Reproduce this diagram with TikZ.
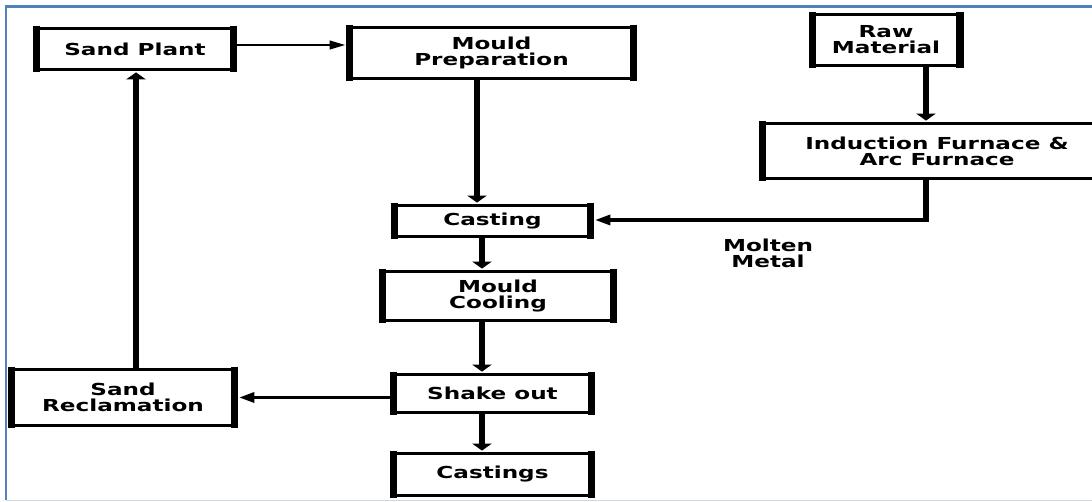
\documentclass[tikz,border=0pt]{standalone}
\usepackage{fontspec}
\setmainfont{DejaVu Sans}[FakeStretch=1.4]
\usetikzlibrary{arrows.meta,calc}
\definecolor{frameblue}{RGB}{79,129,189}
\definecolor{framegray}{RGB}{208,216,226}
\begin{document}
\begin{tikzpicture}[x=0.02cm,y=-0.02cm,
  stepbox/.style={draw=black, line width=1.7pt, inner sep=0pt, align=center,
    font=\bfseries\fontsize{9.4}{9.1}\selectfont},
  sidebar/.style={line width=4pt, black},
  thickarr/.style={line width=3.8pt, -{Triangle[width=11pt,length=4pt]}, shorten >=0.8pt},
  thickline/.style={line width=3.8pt},
  medarr/.style={line width=2.2pt, -{Triangle[width=5.5pt,length=9pt]}, shorten >=2pt},
  thinarr/.style={line width=1.4pt, -{Triangle[width=4.8pt,length=9pt]}, shorten >=2pt},
  lbl/.style={align=center, font=\bfseries\fontsize{9.4}{9.1}\selectfont}]
\useasboundingbox (0,0) rectangle (1092,502);
\clip (0,0) rectangle (1092,502);
\fill[white] (0,0) rectangle (1092,502);
% frame
\draw[frameblue, line width=1.2pt] (6,500) -- (6,6.5) -- (1092,6.5);
\draw[framegray, line width=0.8pt] (6,500.5) -- (1092,500.5);
% nodes
\node[stepbox, minimum width=3.9cm,  minimum height=0.82cm] (sp)   at (135,49)    {Sand Plant};
\node[stepbox, minimum width=5.64cm, minimum height=1.02cm] (mp)   at (491.5,53)  {Mould\\Preparation};
\node[stepbox, minimum width=2.9cm,  minimum height=1.02cm] (rm)   at (886,40)    {Raw\\Material};
\node[stepbox, minimum width=6.94cm, minimum height=1.1cm]  (inf)  at (937,151)   {Induction Furnace \&\\Arc Furnace};
\node[stepbox, minimum width=3.88cm, minimum height=0.62cm] (cast) at (492.5,221) {Casting};
\node[stepbox, minimum width=4.58cm, minimum height=0.98cm] (mc)   at (498,296)   {Mould\\Cooling};
\node[stepbox, minimum width=3.92cm, minimum height=0.76cm] (so)   at (492.5,393.5) {Shake out};
\node[stepbox, minimum width=3.92cm, minimum height=0.84cm] (cs)   at (492.5,474.5) {Castings};
\node[stepbox, minimum width=4.42cm, minimum height=1.12cm] (sr)   at (123,397.5) {Sand\\Reclamation};
\node[lbl] (mm) at (768,253) {Molten\\Metal};
% thick side bars
\foreach \n in {sp,mp,rm,inf,cast,mc,so,cs,sr}{
  \draw[sidebar] ([yshift=0.85pt]\n.north west) -- ([yshift=-0.85pt]\n.south west)
                 ([yshift=0.85pt]\n.north east) -- ([yshift=-0.85pt]\n.south east);
}
% helper coordinates
\coordinate (x477) at (477,0);
\coordinate (x482) at (482,0);
\coordinate (x926) at (926,0);
\coordinate (x136) at (136,0);
\coordinate (y45) at (0,45);
\coordinate (bend) at (926,220);
% connectors
\draw[thinarr] (sp.east |- y45) -- (mp.west |- y45);
\draw[thickarr] (mp.south -| x477) -- (cast.north -| x477);
\draw[thickarr] (rm.south -| x926) -- (inf.north -| x926);
\draw[thickline, shorten >=-1.1pt] (inf.south -| x926) -- (bend);
\draw[medarr] (bend) -- (cast.east |- bend);
\draw[thickarr] (cast.south -| x482) -- (mc.north -| x482);
\draw[thickarr] (mc.south -| x482) -- (so.north -| x482);
\draw[thickarr] (so.south -| x482) -- (cs.north -| x482);
\draw[medarr] (so.west |- sr.east) -- (sr.east);
\draw[thickarr] (sr.north -| x136) -- (sp.south -| x136);
\end{tikzpicture}
\end{document}
